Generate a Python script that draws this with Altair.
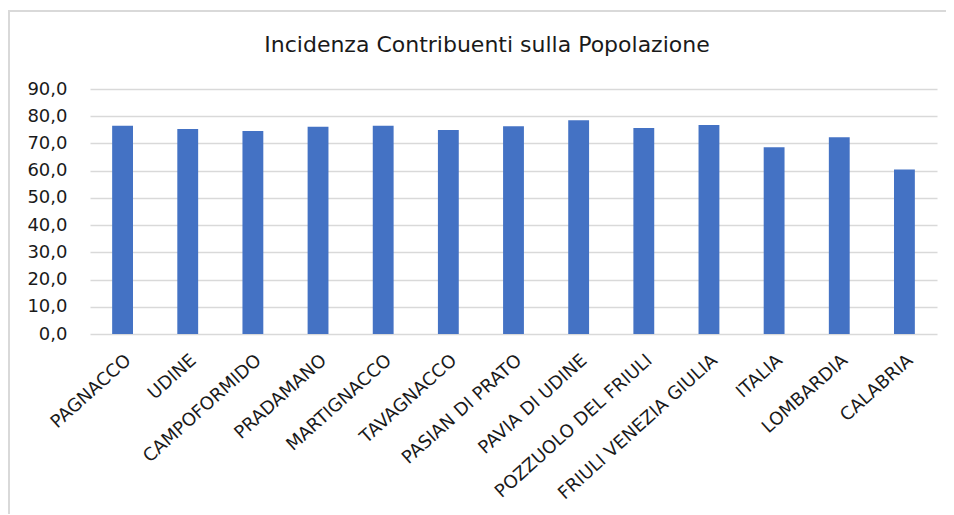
import altair as alt
import pandas as pd

title_text = "Incidenza Contribuenti sulla Popolazione"
categories = ["PAGNACCO", "UDINE", "CAMPOFORMIDO", "PRADAMANO", "MARTIGNACCO",
              "TAVAGNACCO", "PASIAN DI PRATO", "PAVIA DI UDINE", "POZZUOLO DEL FRIULI",
              "FRIULI VENEZIA GIULIA", "ITALIA", "LOMBARDIA", "CALABRIA"]
values = [76.5, 75.3, 74.6, 76.1, 76.5, 74.9, 76.3, 78.5, 75.7, 76.8, 68.6, 72.3, 60.4]
y_ticks = [0, 10, 20, 30, 40, 50, 60, 70, 80, 90]

df = pd.DataFrame({"Comune": categories, "Incidenza": values})
one = pd.DataFrame({"t": [title_text]})

FONT = "DejaVu Sans"
TXT = "#1a1a1a"
W, H = 847, 245

bars = alt.Chart(df).mark_bar(color="#4472C4").encode(
    x=alt.X("Comune:N", sort=categories,
            scale=alt.Scale(paddingInner=0.68, paddingOuter=0.34),
            axis=alt.Axis(title=None, labelAngle=-42, labelFontSize=18, labelFont=FONT,
                          labelColor=TXT, labelPadding=17, ticks=False,
                          domain=False, grid=False, labelLimit=300)),
    y=alt.Y("Incidenza:Q", scale=alt.Scale(domain=[0, 90], nice=False),
            axis=alt.Axis(title=None, values=y_ticks, labelFontSize=18, labelFont=FONT,
                          labelColor=TXT, labelPadding=23, ticks=False, domain=False,
                          gridColor="#D9D9D9", gridWidth=1.5,
                          labelExpr="replace(format(datum.value, '.1f'), '.', ',')")),
)

title = alt.Chart(one).mark_text(font=FONT, fontSize=22, color=TXT, align="center",
                                 baseline="alphabetic").encode(
    text="t:N", x=alt.value(397), y=alt.value(-37))

border_left = alt.Chart(one).mark_rule(color="#D9D9D9", strokeWidth=2).encode(
    x=alt.value(-81), y=alt.value(-78), y2=alt.value(430))
border_top = alt.Chart(one).mark_rule(color="#D9D9D9", strokeWidth=2).encode(
    x=alt.value(-82), x2=alt.value(870), y=alt.value(-78))

chart = alt.layer(border_left, border_top, title, bars).properties(
    width=W, height=H,
    autosize=alt.AutoSizeParams(type="none"),
    padding={"left": 82, "top": 81, "right": 9, "bottom": 180},
).configure_view(stroke=None)

chart.save("out.html", embed_options={"renderer": "svg", "actions": False})
